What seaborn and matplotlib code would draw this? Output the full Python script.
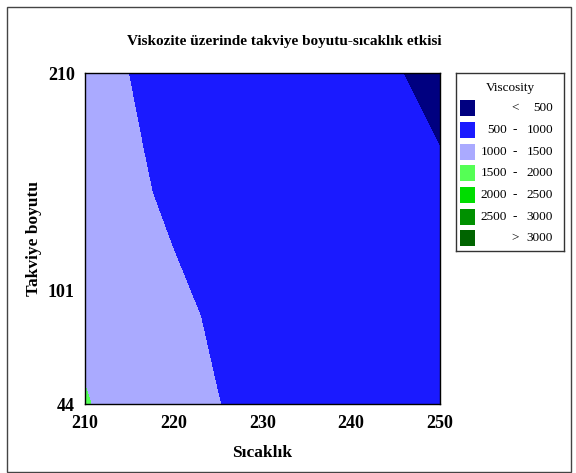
import numpy as np
import matplotlib
matplotlib.use("Agg")
import matplotlib.pyplot as plt
import seaborn as sns
from matplotlib.patches import Rectangle

# grid
temps = [210, 215, 220, 225, 230, 240, 250]          # Sicaklik
sizes = [44, 54, 88, 122, 150, 172, 210]             # Takviye boyutu
visc_44 = [1534, 1308, 1158, 1008, 878, 740, 600]
visc_54 = [1498, 1269, 1129, 994, 864, 700, 560]
visc_88 = [1261, 1161, 1061, 961, 861, 700, 560]
visc_122 = [1169, 1084, 999, 914, 829, 660, 530]
visc_150 = [1122, 1042, 962, 882, 802, 642, 525]
visc_172 = [1099, 1024, 949, 874, 799, 649, 501]
visc_210 = [1080, 999, 918, 837, 756, 594, 432]

levels = [0, 500, 1000, 1500, 2000, 2500, 3000, 100000]
level_colors = ["#000080", "#1a1aff", "#aaaaff", "#55ff55",
                "#00dd00", "#009000", "#006400"]
x_ticks = [210, 220, 230, 240, 250]
y_ticks = [44, 101, 210]

sns.set_style("white")
plt.rcParams['font.family'] = ['Liberation Serif', 'DejaVu Serif']
plt.rcParams['text.color'] = 'black'
plt.rcParams['axes.labelcolor'] = 'black'
plt.rcParams['xtick.color'] = 'black'
plt.rcParams['ytick.color'] = 'black'

Z = np.array([visc_44, visc_54, visc_88, visc_122, visc_150, visc_172, visc_210])

fig = plt.figure(figsize=(5.76, 4.73), dpi=100)
ax = fig.add_axes([84.5 / 576, 1 - 404 / 473, (440 - 84.5) / 576, (404 - 73) / 473])
ax.contourf(temps, sizes, Z, levels=levels, colors=level_colors)

ax.set_xlim(210, 250)
ax.set_ylim(44, 210)
ax.set_xticks(x_ticks)
ax.set_yticks(y_ticks)
ax.tick_params(axis='both', direction='out', length=4, width=1, color='black',
               labelsize=13, pad=3)
ax.tick_params(axis='x', pad=4)
for lab in ax.get_xticklabels() + ax.get_yticklabels():
    lab.set_fontweight('bold')
for sp in ax.spines.values():
    sp.set_color('black')
    sp.set_linewidth(1)

ax.set_xlabel("Sıcaklık", fontsize=12.5, fontweight='bold', labelpad=9)
ax.set_ylabel("Takviye boyutu", fontsize=12.5, fontweight='bold', labelpad=4)
fig.text(284 / 576, 1 - 42 / 473,
         "Viskozite üzerinde takviye boyutu-sıcaklık etkisi",
         ha='center', va='center', fontsize=11, fontweight='bold')

# legend box drawn by hand so the numbers line up on the right
lax = fig.add_axes([456 / 576, 1 - 251 / 473, 108 / 576, 178 / 473])
lax.set_xlim(0, 108)
lax.set_ylim(178, 0)
lax.set_xticks([])
lax.set_yticks([])
for sp in lax.spines.values():
    sp.set_color('#333333')
    sp.set_linewidth(1)
fs = 9.5
lax.text(54, 15, "Viscosity", ha='center', va='center', fontsize=fs)
row_y = [35, 57, 79, 100, 122, 144, 165]
for i, col in enumerate(level_colors):
    y = row_y[i]
    lax.add_patch(Rectangle((3.5, y - 8), 15, 16, facecolor=col, edgecolor='none'))
    lo, hi = levels[i], levels[i + 1]
    if i == 0:
        lax.text(59, y, "<", ha='center', va='center', fontsize=fs)
        lax.text(97, y, str(hi), ha='right', va='center', fontsize=fs)
    elif i == len(level_colors) - 1:
        lax.text(59, y, ">", ha='center', va='center', fontsize=fs)
        lax.text(97, y, str(lo), ha='right', va='center', fontsize=fs)
    else:
        lax.text(51, y, str(lo), ha='right', va='center', fontsize=fs)
        lax.text(59, y, "-", ha='center', va='center', fontsize=fs)
        lax.text(97, y, str(hi), ha='right', va='center', fontsize=fs)

# outer frame around the whole graph
fig.patches.append(Rectangle((7 / 576, 0.002), 564 / 576, 1 - 7 / 473 - 0.002,
                             transform=fig.transFigure, fill=False,
                             edgecolor='#444444', linewidth=1))

fig.savefig("out.png", dpi=100)
